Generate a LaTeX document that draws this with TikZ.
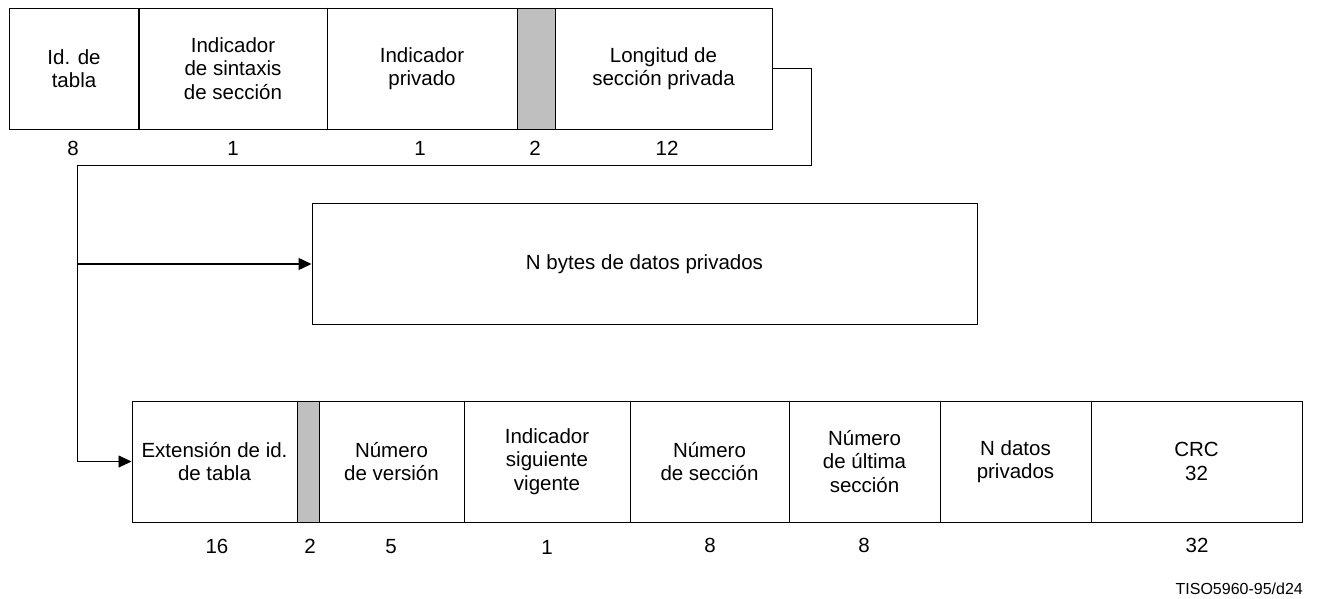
\documentclass[tikz,border=0pt]{standalone}
\usepackage{fontspec}
\setmainfont{Liberation Sans}
\usetikzlibrary{arrows.meta}
\begin{document}
\begin{tikzpicture}[x=1pt,y=-1pt,
  field/.style={draw, line width=1pt, inner sep=0pt, minimum height=121pt, align=center,
     font=\fontsize{20.5}{23.5}\selectfont},
  grey/.style={field, fill=black!25},
  divider/.style={line width=1.7pt},
  num/.style={inner sep=0pt, font=\fontsize{20.5}{23.5}\selectfont},
  conn/.style={line width=0.9pt},
  arr/.style={line width=1.4pt, -{Triangle[length=13pt,width=12pt]}}]
\useasboundingbox (0,0) rectangle (1318,598);
% top row
\node[field, minimum width=130pt] (id) at (74,68.5) {Id. de\\tabla};
\node[field, minimum width=188pt] (sin) at (233,68.5) {Indicador\\de sintaxis\\de sección};
\node[field, minimum width=190pt] (priv) at (422,68.5) {Indicador\\privado};
\node[grey, minimum width=38pt] (g1) at (536,68.5) {};
\node[field, minimum width=217pt] (lsp) at (663.5,68.5) {Longitud de\\sección privada};
\foreach \n in {sin,priv,g1}
  \draw[divider] (\n.north east) -- (\n.south east);
\draw[divider] (sin.north west) -- (sin.south west);
\node[num] (n1) at (73,148) {8};
\node[num] (n2) at (233,148) {1};
\node[num] (n3) at (420,148) {1};
\node[num] (n4) at (535,148) {2};
\node[num] (n5) at (667,148) {12};
% middle
\node[field, minimum width=665pt] (mid) at (644.5,264) {N bytes de datos privados};
% bottom row
\node[field, minimum width=165pt] (ext) at (214.5,461.5) {Extensión de id.\\de tabla};
\node[grey, minimum width=22pt] (g2) at (308,461.5) {};
\node[field, minimum width=145pt] (ver) at (391.5,461.5) {Número\\de versión};
\node[field, minimum width=166pt] (sig) at (547,461.5) {Indicador\\siguiente\\vigente};
\node[field, minimum width=159pt] (sec) at (709.5,461.5) {Número\\de sección};
\node[field, minimum width=151pt] (ult) at (864.5,461.5) {Número\\de última\\sección};
\node[field, minimum width=151pt] (dat) at (1015.5,461.5) {N datos\\privados};
\node[field, minimum width=211pt] (crc) at (1196.5,461.5) {CRC\\32};
\foreach \n in {ext,g2,ver,sig,sec,ult,dat}
  \draw[divider] (\n.north east) -- (\n.south east);
\node[num] (m1) at (217,546) {16};
\node[num] (m2) at (310,546) {2};
\node[num] (m3) at (391,547) {5};
\node[num] (m4) at (547,547) {1};
\node[num] (m5) at (710,545) {8};
\node[num] (m6) at (864,545) {8};
\node[num] (m7) at (1197,545) {32};
\node[inner sep=0pt, anchor=east, font=\fontsize{16}{18}\selectfont] (tiso) at (1303,589) {TISO5960-95/d24};
% connectors
\coordinate (c1) at (811,68.5);
\coordinate (c2) at (811,165);
\coordinate (c3) at (77,165);
\coordinate (c4) at (77,264);
\coordinate (c5) at (77,461.5);
\draw[conn] (lsp.east) -- (c1) -- (c2) -- (c3) -- (c5);
\draw[arr] (c4) -- (mid.west);
\draw[conn, -{Triangle[length=13pt,width=12pt]}] (c5) -- (ext.west);
\end{tikzpicture}
\end{document}
